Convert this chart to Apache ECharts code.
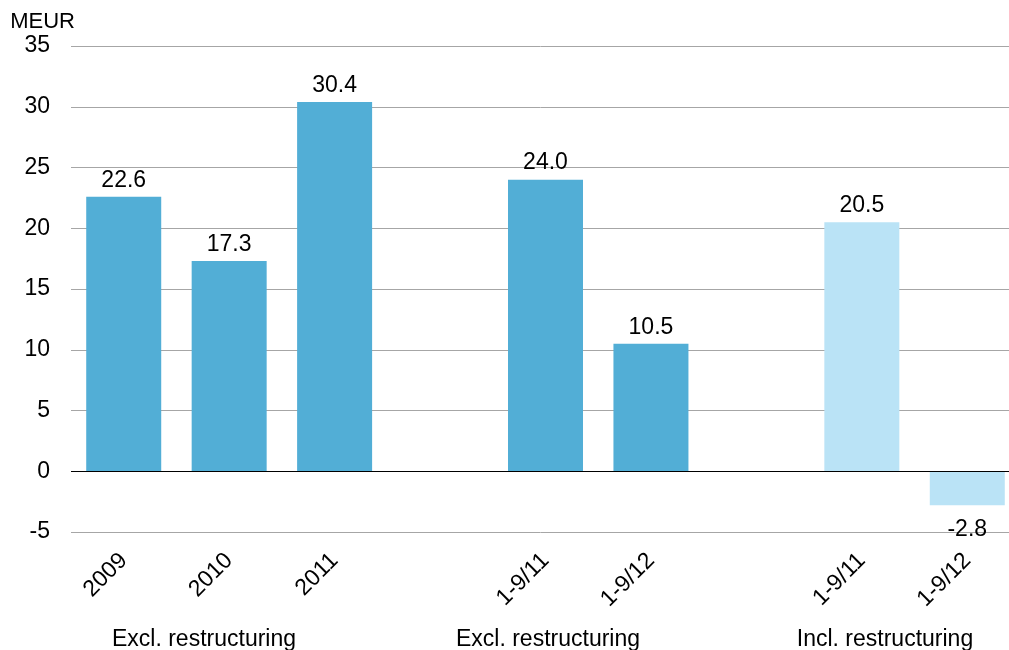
<!DOCTYPE html>
<html>
<head>
<meta charset="utf-8">
<script src="https://cdn.jsdelivr.net/npm/echarts@6/dist/echarts.min.js"></script>
<style>
html,body{margin:0;padding:0;background:#fff;}
#c{width:1009px;height:650px;}
</style>
</head>
<body>
<div id="c"></div>
<script>
const categories = ['2009', '2010', '2011', '', '1-9/11', '1-9/12', '', '1-9/11', '1-9/12'];
const values = [22.6, 17.3, 30.4, null, 24.0, 10.5, null, 20.5, -2.8];
const restructuringIncluded = [false, false, false, false, false, false, false, true, true];
const groupLabels = ['Excl. restructuring', 'Excl. restructuring', 'Incl. restructuring'];
const groupLabelX = [204, 548, 885];
const yTicks = { min: -5, max: 35, interval: 5 };
const unitLabel = 'MEUR';

const DARK = '#52AED6', LIGHT = '#BAE3F6';
const FONT = '"Liberation Sans", Arial, sans-serif';
const FS = 23;

const chart = echarts.init(document.getElementById('c'), null, { renderer: 'canvas' });
const data = values.map((v, i) => v === null ? '-' : {
  value: v,
  itemStyle: { color: restructuringIncluded[i] ? LIGHT : DARK },
  label: v < 0 ? { position: 'bottom', distance: 13 } : { position: 'top', distance: 5 }
});

chart.setOption({
  animation: false,
  backgroundColor: '#fff',
  textStyle: { fontFamily: FONT },
  grid: { left: 71, top: 46, height: 486, width: 949, outerBoundsMode: 'none', containLabel: false },
  xAxis: {
    type: 'category',
    data: categories,
    axisLine: { show: false },
    axisTick: { show: false },
    axisLabel: { rotate: 45, interval: 0, margin: 25, color: '#000', fontSize: FS, fontFamily: FONT }
  },
  yAxis: {
    type: 'value',
    min: yTicks.min, max: yTicks.max, interval: yTicks.interval,
    name: unitLabel,
    nameLocation: 'end',
    nameGap: 13,
    nameTextStyle: { color: '#000', fontSize: FS - 1, fontFamily: FONT, align: 'right', padding: [0, -4, 0, 0] },
    axisLine: { show: false },
    axisTick: { show: false },
    axisLabel: { color: '#000', fontSize: FS, fontFamily: FONT, margin: 21 },
    splitLine: { lineStyle: { color: '#A6A6A6', width: 1 } }
  },
  series: [{
    type: 'bar',
    data: data,
    barWidth: 75,
    label: { show: true, color: '#000', fontSize: FS, fontFamily: FONT,
      formatter: p => p.value.toFixed(1) },
    markLine: {
      silent: true, symbol: 'none', label: { show: false },
      lineStyle: { color: '#000', width: 1.2, type: 'solid' },
      data: [{ yAxis: 0 }]
    }
  }],
  graphic: groupLabels.map((t, k) => ({
    type: 'text', x: groupLabelX[k], y: 640,
    style: { text: t, fill: '#000', font: FS + 'px ' + FONT, textAlign: 'center', textVerticalAlign: 'middle' }
  }))
});
</script>
</body>
</html>
